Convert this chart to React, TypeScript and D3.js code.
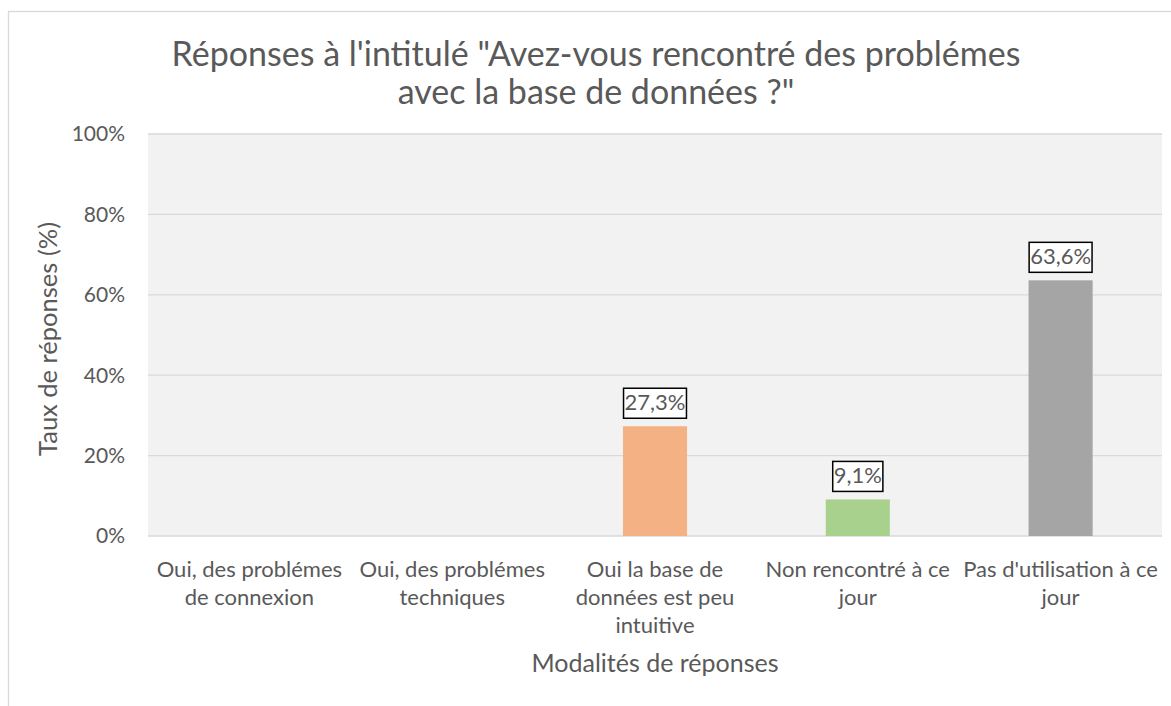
import * as React from "react";
import * as d3 from "d3";

const titleLines = [
  "Réponses à l'intitulé \"Avez-vous rencontré des problémes",
  "avec la base de données ?\"",
];
const categories = [
  "Oui, des problémes de connexion",
  "Oui, des problémes techniques",
  "Oui la base de données est peu intuitive",
  "Non rencontré à ce jour",
  "Pas d'utilisation à ce jour",
];
// how Excel wrapped each category label
const categoryLines = [
  ["Oui, des problémes", "de connexion"],
  ["Oui, des problémes", "techniques"],
  ["Oui la base de", "données est peu", "intuitive"],
  ["Non rencontré à ce", "jour"],
  ["Pas d'utilisation à ce", "jour"],
];
const values = [0, 0, 0.273, 0.091, 0.636];
const barColors = ["#5B9BD5", "#ED7D31", "#F4B183", "#A9D18E", "#A5A5A5"];
const yTicks = [0, 0.2, 0.4, 0.6, 0.8, 1];
const xTitle = "Modalités de réponses";
const yTitle = "Taux de réponses (%)";

const W = 1171;
const H = 706;
const font = "Lato, 'Open Sans', sans-serif";
const textColor = "#595959";

export default function App() {
  const ref = React.useRef<SVGSVGElement>(null);

  React.useEffect(() => {
    document.body.style.margin = "0";
    const svg = d3.select(ref.current);
    svg.selectAll("*").remove();

    const plot = { left: 148, right: 1162, top: 134, bottom: 536 };

    const x = d3
      .scaleBand<string>()
      .domain(categories)
      .range([plot.left, plot.right])
      .paddingInner(0.684)
      .paddingOuter(0.342);
    const y = d3.scaleLinear().domain([0, 1]).range([plot.bottom, plot.top]);

    // chart frame
    svg
      .append("rect")
      .attr("x", 8.5)
      .attr("y", 11.5)
      .attr("width", 1300)
      .attr("height", 900)
      .attr("fill", "#fff")
      .attr("stroke", "#D9D9D9")
      .attr("stroke-width", 1.3);

    // title
    svg
      .append("text")
      .attr("font-family", font)
      .attr("font-size", 34)
      .attr("fill", textColor)
      .attr("text-anchor", "middle")
      .selectAll("tspan")
      .data(titleLines)
      .join("tspan")
      .attr("x", 596)
      .attr("y", (d, i) => 66 + i * 38)
      .text((d) => d);

    // plot background
    svg
      .append("rect")
      .attr("x", plot.left)
      .attr("y", plot.top)
      .attr("width", plot.right - plot.left)
      .attr("height", plot.bottom - plot.top)
      .attr("fill", "#F2F2F2");

    // gridlines
    svg
      .append("g")
      .selectAll("line")
      .data(yTicks)
      .join("line")
      .attr("x1", plot.left)
      .attr("x2", plot.right)
      .attr("y1", (d) => y(d))
      .attr("y2", (d) => y(d))
      .attr("stroke", "#D9D9D9")
      .attr("stroke-width", 1.3);

    // y tick labels
    svg
      .append("g")
      .selectAll("text")
      .data(yTicks)
      .join("text")
      .attr("x", 125)
      .attr("y", (d) => y(d))
      .attr("dy", "0.35em")
      .attr("text-anchor", "end")
      .attr("font-family", font)
      .attr("font-size", 21)
      .attr("fill", textColor)
      .text((d) => d3.format(".0%")(d));

    // bars
    const bars = categories.map((c, i) => ({ c, v: values[i], color: barColors[i] }));
    svg
      .append("g")
      .selectAll("rect")
      .data(bars.filter((b) => b.v > 0))
      .join("rect")
      .attr("x", (d) => x(d.c)!)
      .attr("y", (d) => y(d.v))
      .attr("width", x.bandwidth())
      .attr("height", (d) => y(0) - y(d.v))
      .attr("fill", (d) => d.color);

    // data labels with boxes
    const fmt = (v: number) => d3.format(".1%")(v).replace(".", ",");
    const labels = svg
      .append("g")
      .selectAll("g")
      .data(bars.filter((b) => b.v > 0))
      .join("g");
    labels.each(function (d) {
      const g = d3.select(this);
      const cx = x(d.c)! + x.bandwidth() / 2;
      const boxBottom = y(d.v) - 8;
      const rect = g.append("rect");
      const t = g
        .append("text")
        .attr("x", cx)
        .attr("y", boxBottom - 8)
        .attr("text-anchor", "middle")
        .attr("font-family", font)
        .attr("font-size", 22)
        .attr("fill", textColor)
        .text(fmt(d.v));
      const w = (t.node() as SVGTextElement).getComputedTextLength() + 2;
      rect
        .attr("x", cx - w / 2)
        .attr("y", boxBottom - 30)
        .attr("width", w)
        .attr("height", 30)
        .attr("fill", "#fff")
        .attr("stroke", "#000")
        .attr("stroke-width", 1.5);
    });

    // category labels
    svg
      .append("g")
      .selectAll("text")
      .data(categories)
      .join("text")
      .attr("text-anchor", "middle")
      .attr("font-family", font)
      .attr("font-size", 22)
      .attr("fill", textColor)
      .each(function (c, i) {
        d3.select(this)
          .selectAll("tspan")
          .data(categoryLines[i])
          .join("tspan")
          .attr("x", x(c)! + x.bandwidth() / 2)
          .attr("y", (d, j) => 577 + j * 28)
          .text((d) => d);
      });

    // axis titles
    svg
      .append("text")
      .attr("x", (plot.left + plot.right) / 2)
      .attr("y", 672)
      .attr("text-anchor", "middle")
      .attr("font-family", font)
      .attr("font-size", 25)
      .attr("fill", textColor)
      .text(xTitle);

    svg
      .append("text")
      .attr("transform", `translate(57,${(plot.top + plot.bottom) / 2 + 4}) rotate(-90)`)
      .attr("text-anchor", "middle")
      .attr("font-family", font)
      .attr("font-size", 25.5)
      .attr("fill", textColor)
      .text(yTitle);
  }, []);

  return <svg ref={ref} width={W} height={H} style={{ display: "block" }} />;
}
